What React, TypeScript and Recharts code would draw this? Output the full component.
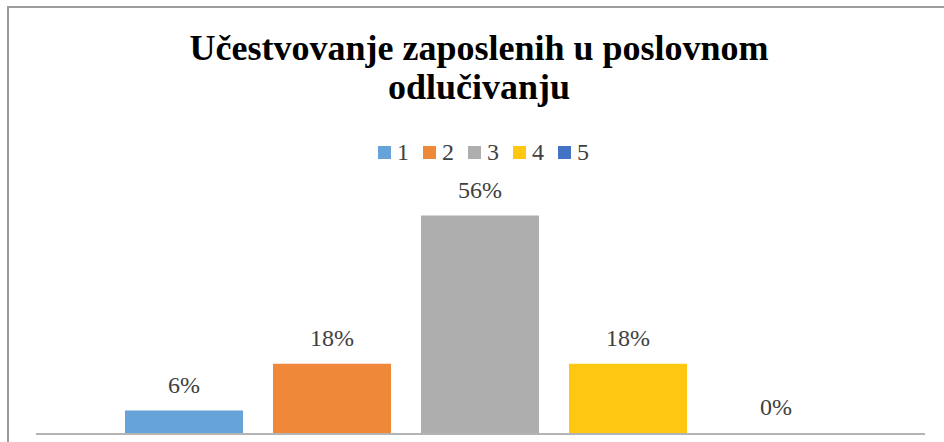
import React from "react";
import { BarChart, Bar, XAxis, YAxis, Legend, LabelList } from "recharts";

// one category, five answers (grades 1-5)
const grades = ["1", "2", "3", "4", "5"];
const shares = [0.06, 0.18, 0.56, 0.18, 0];
const colors = ["#65A3D9", "#F0883A", "#ADAEAD", "#FFC612", "#4472C4"];

const row: Record<string, number | string> = { name: "" };
grades.forEach((g, i) => {
  row["g" + g] = shares[i];
});
const data = [row];

const serif = "'Liberation Serif', 'Times New Roman', serif";

const pct = (v: any) => `${Math.round(Number(v) * 100)}%`;

const renderLegend = (props: any) => {
  const { payload } = props;
  return (
    <div style={{ display: "flex", alignItems: "center", height: 24, fontFamily: serif, fontSize: 24, lineHeight: "24px", color: "#404040" }}>
      {payload.map((entry: any, i: number) => (
        <div key={i} style={{ display: "flex", alignItems: "center", marginRight: i === payload.length - 1 ? 0 : 14 }}>
          <span style={{ display: "inline-block", width: 13, height: 13, background: entry.color, marginRight: 6 }} />
          <span style={{ fontFamily: serif }}>{entry.value}</span>
        </div>
      ))}
    </div>
  );
};

export default function App() {
  return (
    <div style={{ position: "absolute", left: 0, top: 0, width: 944, height: 442, overflow: "hidden", background: "#fff" }}>
      {/* chart frame, runs past the right and bottom edge */}
      <div style={{ position: "absolute", left: 7, top: 6, width: 980, height: 480, border: "2px solid #9c9c9c", boxSizing: "border-box" }} />

      <div
        style={{
          position: "absolute",
          left: 0,
          top: 29,
          width: 958,
          textAlign: "center",
          fontFamily: serif,
          fontWeight: "bold",
          fontSize: 36,
          lineHeight: "39px",
          color: "#000",
        }}
      >
        Učestvovanje zaposlenih u poslovnom
        <br />
        odlučivanju
      </div>

      <div style={{ position: "absolute", left: 0, top: 0 }}>
        <BarChart
          width={944}
          height={442}
          data={data}
          margin={{ top: 200, right: 19, bottom: 7, left: 36 }}
          barCategoryGap={89}
          barGap={30}
        >
          <YAxis hide domain={[0, 0.6]} />
          <Legend
            layout="horizontal"
            verticalAlign="middle"
            align="center"
            content={renderLegend}
            wrapperStyle={{ position: "absolute", left: 378, top: 140, width: "auto" }}
          />
          {grades.map((g, i) => (
            <Bar
              key={g}
              dataKey={"g" + g}
              name={g}
              fill={colors[i]}
              minPointSize={(v: any) => (Number(v) === 0 ? 1 : 0)}
              isAnimationActive={false}
            >
              <LabelList
                dataKey={"g" + g}
                position="top"
                offset={18}
                formatter={pct}
                fontFamily={serif}
                style={{ fontFamily: serif, fontSize: 24, fill: "#404040" }}
              />
            </Bar>
          ))}
          <XAxis dataKey="name" tick={false} tickLine={false} height={1} axisLine={{ stroke: "#b4b4b4", strokeWidth: 2 }} />
        </BarChart>
      </div>
    </div>
  );
}
